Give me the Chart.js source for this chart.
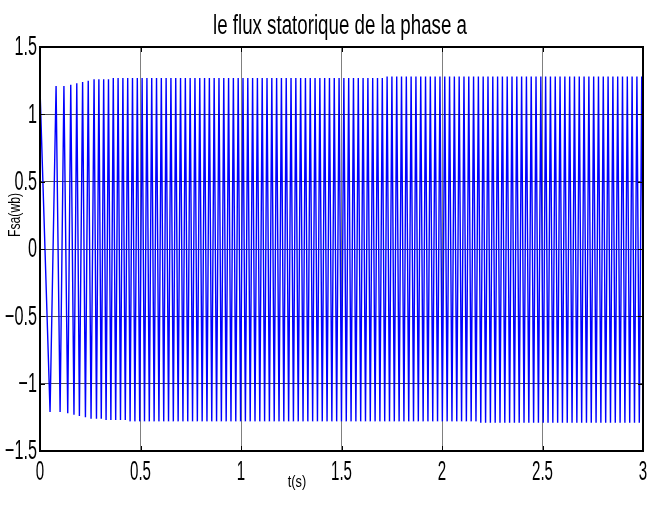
<!DOCTYPE html>
<html>
<head>
<meta charset="utf-8">
<script src="https://cdn.jsdelivr.net/npm/chart.js@4.4.1/dist/chart.umd.min.js"></script>
<style>
  html, body { margin: 0; padding: 0; background: #ffffff; }
  #wrap { width: 652px; height: 506px; }
</style>
</head>
<body>
<div id="wrap"><canvas id="c" width="652" height="506"></canvas></div>
<script>
// Stator flux of phase a, Fsa (Wb), versus time t (s)

// Start-up swing: times (s) and flux values (Wb) at each extremum
const startTimes = [0, 0.050, 0.080, 0.100, 0.119, 0.138, 0.153, 0.169, 0.183, 0.196, 0.212, 0.226, 0.240, 0.254, 0.269];
const startFlux  = [1.19, -1.21, 1.21, -1.21, 1.21, -1.22, 1.22, -1.23, 1.23, -1.24, 1.24, -1.25, 1.25, -1.26, 1.26];

// Steady operation: one negative and one positive crest per cycle
const cyclePeriod = 0.0239;
const negCrests = [
  -1.26, -1.26, -1.27, -1.27, -1.27, -1.27, -1.27, -1.28, -1.28, -1.28,
  -1.28, -1.28, -1.28, -1.28, -1.28, -1.28, -1.28, -1.28, -1.28, -1.28,
  -1.28, -1.28, -1.28, -1.28, -1.28, -1.28, -1.28, -1.28, -1.28, -1.28,
  -1.28, -1.28, -1.28, -1.28, -1.28, -1.28, -1.28, -1.28, -1.28, -1.28,
  -1.28, -1.28, -1.28, -1.28, -1.28, -1.28, -1.28, -1.28, -1.28, -1.28,
  -1.28, -1.28, -1.28, -1.28, -1.28, -1.28, -1.28, -1.28, -1.28, -1.28,
  -1.28, -1.28, -1.28, -1.28, -1.28, -1.28, -1.28, -1.28, -1.28, -1.28,
  -1.28, -1.28, -1.28, -1.28, -1.28, -1.28, -1.28, -1.28, -1.28, -1.28,
  -1.29, -1.29, -1.29, -1.29, -1.29, -1.29, -1.29, -1.29, -1.29, -1.29,
  -1.29, -1.29, -1.29, -1.29, -1.29, -1.29, -1.29, -1.29, -1.29, -1.29,
  -1.29, -1.29, -1.29, -1.29, -1.29, -1.29, -1.29, -1.29, -1.29, -1.29,
  -1.29, -1.29, -1.29, -1.29, -1.29
];
const posCrests = [
  1.26, 1.26, 1.26, 1.27, 1.27, 1.27, 1.27, 1.27, 1.27, 1.27,
  1.27, 1.27, 1.27, 1.27, 1.27, 1.27, 1.27, 1.27, 1.27, 1.27,
  1.27, 1.27, 1.27, 1.27, 1.27, 1.27, 1.27, 1.27, 1.27, 1.27,
  1.27, 1.27, 1.27, 1.27, 1.27, 1.27, 1.27, 1.27, 1.27, 1.27,
  1.27, 1.27, 1.27, 1.27, 1.27, 1.27, 1.27, 1.27, 1.27, 1.27,
  1.27, 1.27, 1.27, 1.27, 1.27, 1.27, 1.27, 1.27, 1.27, 1.27,
  1.28, 1.28, 1.28, 1.28, 1.28, 1.28, 1.28, 1.28, 1.28, 1.28,
  1.28, 1.28, 1.28, 1.28, 1.28, 1.28, 1.28, 1.28, 1.28, 1.28,
  1.28, 1.28, 1.28, 1.28, 1.28, 1.28, 1.28, 1.28, 1.28, 1.28,
  1.28, 1.28, 1.28, 1.28, 1.28, 1.28, 1.28, 1.28, 1.28, 1.28,
  1.28, 1.28, 1.28, 1.28, 1.28, 1.28, 1.28, 1.28, 1.28, 1.28,
  1.28, 1.28, 1.28, 1.28, 1.28
];

// Axis ticks and labels
const xTicks = [0, 0.5, 1, 1.5, 2, 2.5, 3];
const xTickLabels = ['0', '0.5', '1', '1.5', '2', '2.5', '3'];
const yTicks = [-1.5, -1, -0.5, 0, 0.5, 1, 1.5];
const yTickLabels = ['\u22121.5', '\u22121', '\u22120.5', '0', '0.5', '1', '1.5'];

const titleText = 'le flux statorique de la phase a';
const xTitle = 't(s)';
const yTitle = 'Fsa(wb)';

// Build the point list from the extrema
const points = [];
for (let i = 0; i < startTimes.length; i++) points.push({ x: startTimes[i], y: startFlux[i] });
const t0 = startTimes[startTimes.length - 1];
for (let k = 0; k < negCrests.length; k++) {
  points.push({ x: t0 + cyclePeriod * (k + 0.5), y: negCrests[k] });
  points.push({ x: t0 + cyclePeriod * (k + 1), y: posCrests[k] });
}

// Condensed text helper
function condensedText(ctx, text, x, y, font, sx, align, baseline, angle) {
  ctx.save();
  ctx.font = font;
  ctx.fillStyle = '#000000';
  ctx.textAlign = align;
  ctx.textBaseline = baseline;
  ctx.translate(x, y);
  if (angle) ctx.rotate(angle);
  ctx.scale(sx, 1);
  ctx.fillText(text, 0, 0);
  ctx.restore();
}

const framePlugin = {
  id: 'matlabFrame',
  afterDraw(chart) {
    const ctx = chart.ctx;
    const a = chart.chartArea;
    const xs = chart.scales.x, ys = chart.scales.y;

    // inward tick marks on all four sides
    ctx.save();
    ctx.strokeStyle = '#000000';
    ctx.lineWidth = 1;
    ctx.beginPath();
    xTicks.forEach(v => {
      const px = Math.round(xs.getPixelForValue(v)) + 0.5;
      ctx.moveTo(px, a.bottom); ctx.lineTo(px, a.bottom - 5);
      ctx.moveTo(px, a.top); ctx.lineTo(px, a.top + 5);
    });
    yTicks.forEach(v => {
      const py = Math.round(ys.getPixelForValue(v)) + 0.5;
      ctx.moveTo(a.left, py); ctx.lineTo(a.left + 5, py);
      ctx.moveTo(a.right, py); ctx.lineTo(a.right - 5, py);
    });
    ctx.stroke();
    // box
    ctx.lineWidth = 2;
    ctx.strokeRect(a.left, a.top, a.right - a.left, a.bottom - a.top);
    ctx.restore();

    // tick labels
    xTicks.forEach((v, i) => {
      condensedText(ctx, xTickLabels[i], xs.getPixelForValue(v), 480,
        '27px "Liberation Sans", Arial, sans-serif', 0.56, 'center', 'alphabetic');
    });
    yTicks.forEach((v, i) => {
      condensedText(ctx, yTickLabels[i], 37, ys.getPixelForValue(v) + 1,
        '27px "Liberation Sans", Arial, sans-serif', 0.6, 'right', 'middle');
    });

    // title and axis titles
    ctx.save();
    ctx.font = '27px "Liberation Sans", Arial, sans-serif';
    const tw = ctx.measureText(titleText).width;
    ctx.restore();
    condensedText(ctx, titleText, 340, 34, '27px "Liberation Sans", Arial, sans-serif', 254 / tw, 'center', 'alphabetic');
    condensedText(ctx, xTitle, 297, 487, '17px "Liberation Sans", Arial, sans-serif', 0.75, 'center', 'alphabetic');
    condensedText(ctx, yTitle, 20, 215, '17px "Liberation Sans", Arial, sans-serif', 0.72, 'center', 'alphabetic', -Math.PI / 2);
  }
};

new Chart(document.getElementById('c'), {
  type: 'line',
  data: {
    datasets: [{
      data: points,
      borderColor: '#0000ff',
      borderWidth: 1.4,
      pointRadius: 0,
      tension: 0,
      fill: false
    }]
  },
  options: {
    responsive: false,
    animation: false,
    devicePixelRatio: 1,
    layout: { padding: { left: 40, right: 9, top: 47, bottom: 55 } },
    plugins: { legend: { display: false }, title: { display: false }, tooltip: { enabled: false } },
    scales: {
      x: {
        type: 'linear', min: 0, max: 3,
        afterBuildTicks: s => { s.ticks = xTicks.map(v => ({ value: v })); },
        ticks: { display: false },
        grid: { color: '#808080', lineWidth: 1, drawTicks: false },
        border: { display: false }
      },
      y: {
        type: 'linear', min: -1.5, max: 1.5,
        afterBuildTicks: s => { s.ticks = yTicks.map(v => ({ value: v })); },
        ticks: { display: false },
        grid: { color: '#505050', lineWidth: 1, drawTicks: false },
        border: { display: false }
      }
    }
  },
  plugins: [framePlugin]
});
</script>
</body>
</html>
